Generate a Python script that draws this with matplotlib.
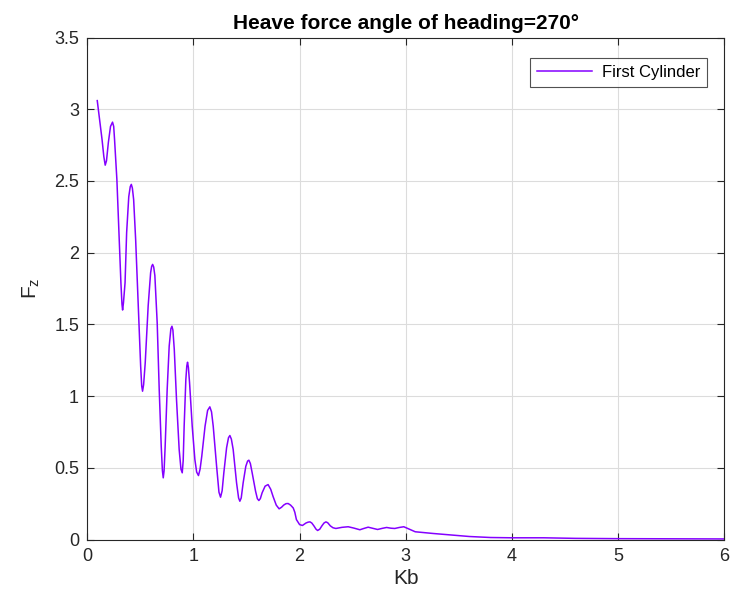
import matplotlib
matplotlib.use("Agg")
import matplotlib.pyplot as plt

plt.rcParams['font.family'] = ['Liberation Sans', 'DejaVu Sans']

# Heave force amplitude vs. non-dimensional wavenumber Kb
kb = [0.093, 0.115, 0.138, 0.155, 0.168, 0.180, 0.198, 0.218, 0.237, 0.248,
      0.256, 0.278, 0.300, 0.316, 0.326, 0.332, 0.340, 0.355, 0.370, 0.390,
      0.404, 0.414, 0.424, 0.436, 0.455, 0.480, 0.502, 0.512, 0.520, 0.530,
      0.545, 0.573, 0.596, 0.606, 0.615, 0.625, 0.636, 0.658, 0.677, 0.696,
      0.707, 0.715, 0.723, 0.733, 0.752, 0.771, 0.787, 0.797, 0.806, 0.819,
      0.840, 0.865, 0.882, 0.894, 0.903, 0.912, 0.928, 0.937, 0.944, 0.952,
      0.963, 0.988, 1.013, 1.030, 1.047, 1.062, 1.078, 1.109, 1.133, 1.154,
      1.170, 1.186, 1.218, 1.240, 1.255, 1.270, 1.286, 1.312, 1.330, 1.343,
      1.357, 1.374, 1.406, 1.425, 1.437, 1.450, 1.468, 1.493, 1.510, 1.522,
      1.536, 1.553, 1.585, 1.602, 1.616, 1.630, 1.647, 1.675, 1.703, 1.728,
      1.750, 1.780, 1.807, 1.830, 1.850, 1.872, 1.892, 1.915, 1.940, 1.955,
      1.970, 2.000, 2.027, 2.060, 2.080, 2.098, 2.115, 2.135, 2.155, 2.170,
      2.190, 2.210, 2.230, 2.248, 2.265, 2.290, 2.315, 2.342, 2.400, 2.458,
      2.510, 2.568, 2.605, 2.646, 2.690, 2.735, 2.780, 2.820, 2.860, 2.897,
      2.940, 2.982, 3.040, 3.090, 3.260, 3.450, 3.600, 3.800, 4.000, 4.300,
      4.600, 5.000, 5.500, 6.000]
fz = [3.06, 2.93, 2.79, 2.67, 2.61, 2.64, 2.77, 2.88, 2.91, 2.88,
      2.79, 2.51, 2.09, 1.79, 1.64, 1.60, 1.65, 1.79, 2.14, 2.39,
      2.46, 2.476, 2.45, 2.37, 2.09, 1.63, 1.21, 1.07, 1.034, 1.08,
      1.23, 1.63, 1.86, 1.905, 1.918, 1.90, 1.84, 1.51, 1.046, 0.65,
      0.48, 0.43, 0.48, 0.65, 1.046, 1.348, 1.47, 1.487, 1.46, 1.325,
      0.976, 0.628, 0.49, 0.465, 0.55, 0.79, 1.116, 1.21, 1.236, 1.20,
      1.093, 0.79, 0.558, 0.47, 0.446, 0.49, 0.58, 0.79, 0.90, 0.925,
      0.89, 0.79, 0.51, 0.33, 0.295, 0.34, 0.465, 0.64, 0.71, 0.725,
      0.70, 0.628, 0.395, 0.29, 0.267, 0.29, 0.395, 0.51, 0.547, 0.553,
      0.53, 0.465, 0.337, 0.285, 0.272, 0.285, 0.326, 0.372, 0.383, 0.35,
      0.30, 0.24, 0.214, 0.225, 0.240, 0.250, 0.251, 0.24, 0.22, 0.19,
      0.139, 0.104, 0.098, 0.115, 0.121, 0.123, 0.115, 0.095, 0.072, 0.063,
      0.072, 0.095, 0.115, 0.123, 0.117, 0.095, 0.082, 0.077, 0.085, 0.089,
      0.080, 0.068, 0.077, 0.086, 0.078, 0.070, 0.078, 0.084, 0.079, 0.077,
      0.084, 0.089, 0.070, 0.054, 0.042, 0.030, 0.021, 0.014, 0.012, 0.012,
      0.008, 0.006, 0.005, 0.004]

xticks = [0, 1, 2, 3, 4, 5, 6]
yticks = [0, 0.5, 1, 1.5, 2, 2.5, 3, 3.5]
ytick_labels = ['0', '0.5', '1', '1.5', '2', '2.5', '3', '3.5']

fig = plt.figure(figsize=(7.3, 6.01), dpi=100)
ax = fig.add_axes([0.1197, 0.1023, 0.8721, 0.8353])

ax.plot(kb, fz, color='#8400FF', lw=1.1, label='First Cylinder',
        solid_joinstyle='round')

ax.set_xlim(0, 6)
ax.set_ylim(0, 3.5)
ax.set_xticks(xticks)
ax.set_yticks(yticks)
ax.set_yticklabels(ytick_labels)
ax.grid(True, color='#dcdcdc', lw=0.8)
ax.set_axisbelow(True)

ax.tick_params(direction='in', top=True, right=True, length=5, width=0.8,
               colors='#262626', labelsize=13, pad=6)
for s in ax.spines.values():
    s.set_color('#262626')
    s.set_linewidth(0.8)

ax.set_xlabel('Kb', fontsize=15, color='#262626', labelpad=3)
ax.set_ylabel(r'F$_{\mathregular{z}}$', fontsize=15, color='#262626', labelpad=9)
ax.set_title('Heave force angle of heading=270°', fontsize=15,
             fontweight='bold', color='black', pad=6)

leg = ax.legend(loc='upper right', fontsize=12, frameon=True, fancybox=False,
                edgecolor='#262626', handlelength=3.3, handletextpad=0.6,
                borderpad=0.4, bbox_to_anchor=(0.986, 0.975))
leg.get_frame().set_linewidth(0.8)

fig.savefig('out.png', dpi=100)
